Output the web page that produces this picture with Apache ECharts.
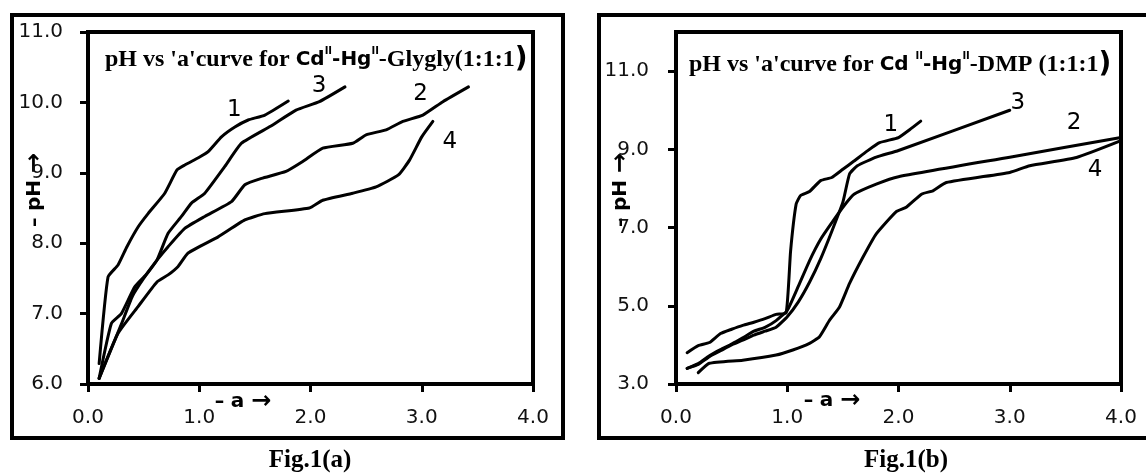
<!DOCTYPE html>
<html>
<head>
<meta charset="utf-8">
<script src="https://cdn.jsdelivr.net/npm/echarts@6/dist/echarts.min.js"></script>
<style>
  html, body { margin: 0; padding: 0; background: #fff; }
  #main { width: 1146px; height: 474px; }
</style>
</head>
<body>
<div id="main"></div>
<script>
// Fig.1(a) : Cd(II)-Hg(II)-Glygly (1:1:1)
const aA1 = [0.1, 0.18, 0.27, 0.35, 0.45, 0.54, 0.69, 0.8, 0.87, 1.0, 1.08, 1.2, 1.32, 1.44, 1.59, 1.8]
const phA1 = [6.29, 7.52, 7.69, 7.95, 8.23, 8.42, 8.71, 9.04, 9.11, 9.22, 9.30, 9.51, 9.65, 9.75, 9.82, 10.02]
const aA2 = [0.1, 0.21, 0.3, 0.42, 0.52, 0.62, 0.72, 0.87, 1.05, 1.29, 1.41, 1.56, 1.78, 1.93, 2.11, 2.38, 2.5, 2.68, 2.83, 3.01, 3.19, 3.42]
const phA2 = [6.08, 6.86, 7.0, 7.38, 7.55, 7.76, 7.95, 8.21, 8.38, 8.59, 8.83, 8.92, 9.02, 9.16, 9.35, 9.42, 9.54, 9.61, 9.73, 9.82, 10.01, 10.22]
const aA3 = [0.1, 0.23, 0.3, 0.4, 0.5, 0.62, 0.72, 0.84, 0.93, 1.05, 1.23, 1.38, 1.64, 1.87, 2.08, 2.31]
const phA3 = [6.08, 6.58, 6.85, 7.25, 7.5, 7.76, 8.14, 8.38, 8.57, 8.71, 9.09, 9.42, 9.66, 9.89, 10.01, 10.22]
const aA4 = [0.1, 0.27, 0.45, 0.62, 0.72, 0.81, 0.9, 1.17, 1.41, 1.59, 1.99, 2.11, 2.38, 2.59, 2.79, 2.89, 3.0, 3.1]
const phA4 = [6.08, 6.72, 7.10, 7.45, 7.55, 7.67, 7.86, 8.09, 8.33, 8.42, 8.50, 8.61, 8.71, 8.80, 8.97, 9.18, 9.51, 9.73]

// Fig.1(b) : Cd(II)-Hg(II)-DMP (1:1:1)
const aB1 = [0.1, 0.2, 0.3, 0.4, 0.5, 0.6, 0.7, 0.8, 0.9, 0.99, 1.03, 1.08, 1.12, 1.2, 1.3, 1.4, 1.5, 1.6, 1.72, 1.83, 2.0, 2.1, 2.2]
const phB1 = [3.80, 3.98, 4.06, 4.29, 4.40, 4.50, 4.58, 4.67, 4.78, 4.82, 6.4, 7.6, 7.82, 7.92, 8.20, 8.28, 8.49, 8.70, 8.96, 9.17, 9.30, 9.50, 9.72]
const aB2 = [0.1, 0.2, 0.3, 0.4, 0.5, 0.6, 0.7, 0.8, 0.9, 1.0, 1.1, 1.2, 1.3, 1.4, 1.5, 1.6, 1.8, 2.0, 3.0, 4.0]
const phB2 = [3.40, 3.52, 3.72, 3.88, 4.02, 4.18, 4.35, 4.45, 4.62, 4.88, 5.50, 6.15, 6.70, 7.12, 7.52, 7.85, 8.11, 8.30, 8.80, 9.30]
const aB3 = [0.1, 0.2, 0.3, 0.4, 0.5, 0.6, 0.7, 0.8, 0.9, 1.0, 1.1, 1.2, 1.3, 1.4, 1.5, 1.56, 1.63, 1.8, 2.0, 3.0]
const phB3 = [3.40, 3.50, 3.70, 3.85, 4.00, 4.12, 4.25, 4.35, 4.45, 4.72, 5.10, 5.60, 6.20, 6.90, 7.65, 8.37, 8.58, 8.80, 8.97, 10.0]
const aB4 = [0.2, 0.3, 0.6, 0.9, 1.05, 1.2, 1.29, 1.38, 1.47, 1.56, 1.68, 1.8, 1.98, 2.07, 2.21, 2.31, 2.43, 3.0, 3.18, 3.6, 4.0]
const phB4 = [3.29, 3.53, 3.61, 3.74, 3.87, 4.04, 4.21, 4.63, 4.97, 5.57, 6.24, 6.84, 7.41, 7.52, 7.86, 7.94, 8.15, 8.41, 8.58, 8.79, 9.22]

const xTicks = [0, 1, 2, 3, 4]
const yTicksB = [3, 5, 7, 9, 11]

const SANS = 'DejaVu Sans'
const SERIF = 'Liberation Serif'

function curve (name, xs, ys, gi, off) {
  return {
    type: 'line',
    name: name,
    xAxisIndex: gi,
    yAxisIndex: gi,
    data: xs.map((x, i) => [x, ys[i]]),
    symbol: 'none',
    smooth: 0.15,
    clip: false,
    lineStyle: { color: '#000', width: 3, cap: 'round', join: 'round' },
    endLabel: {
      show: true,
      formatter: name,
      align: 'center',
      verticalAlign: 'middle',
      distance: 0,
      offset: off,
      fontFamily: SANS,
      fontSize: 23,
      color: '#000'
    }
  }
}

function xAxisOf (gi) {
  return {
    gridIndex: gi,
    type: 'value',
    min: 0,
    max: 4,
    interval: 1,
    axisLine: { show: true, onZero: false, lineStyle: { color: '#000', width: 4 } },
    axisTick: { show: true, length: 8, customValues: xTicks, lineStyle: { color: '#000', width: 3 } },
    axisLabel: { margin: 24, customValues: xTicks, formatter: v => v.toFixed(1), fontFamily: SANS, fontSize: 20, color: '#111' },
    splitLine: { show: false }
  }
}

const rich = {
  t: { fontFamily: SERIF, fontWeight: 'bold', fontSize: 24, color: '#000', lineHeight: 28 },
  s: { fontFamily: SANS, fontWeight: 'bold', fontSize: 20, color: '#000', lineHeight: 28 },
  sup: { fontFamily: SANS, fontWeight: 'bold', fontSize: 10, color: '#000', lineHeight: 14, verticalAlign: 'top' },
  p: { fontFamily: SANS, fontSize: 28, color: '#000', lineHeight: 28 }
}

const nameRich = {
  d: { fontFamily: SANS, fontWeight: 'bold', fontSize: 19, color: '#000' },
  t: { fontFamily: SANS, fontWeight: 'bold', fontSize: 20, color: '#000' },
  r: { fontFamily: SANS, fontWeight: 'bold', fontSize: 24, color: '#000' }
}

function nameText (x, y, txt, rot) {
  return {
    type: 'text', x: x, y: y, rotation: rot,
    style: { text: txt, rich: nameRich, align: 'center', verticalAlign: 'middle' }
  }
}

const option = {
  backgroundColor: '#fff',
  animation: false,
  title: [
    {
      left: 105, top: 46, padding: 0,
      text: "{t|pH vs 'a'curve for }{s|Cd}{sup|II}{s|-Hg}{sup|II}{t|-Glygly(1:1:1}{p|)}",
      textStyle: { rich: rich }
    },
    {
      left: 689, top: 51, padding: 0,
      text: "{t|pH vs 'a'curve for }{s|Cd }{sup|II}{s|-Hg}{sup|II}{t|-DMP (1:1:1}{p|)}",
      textStyle: { rich: rich }
    }
  ],
  grid: [
    { left: 88, top: 32, width: 445, height: 352, show: true, borderColor: '#000', borderWidth: 4 },
    { left: 676, top: 32, width: 445, height: 352, show: true, borderColor: '#000', borderWidth: 4 }
  ],
  xAxis: [xAxisOf(0), xAxisOf(1)],
  yAxis: [
    {
      gridIndex: 0, type: 'value', min: 6, max: 11, interval: 1,
      axisLine: { show: true, onZero: false, lineStyle: { color: '#000', width: 4 } },
      axisTick: { show: true, length: 8, lineStyle: { color: '#000', width: 3 } },
      axisLabel: { margin: 25, formatter: v => v.toFixed(1), fontFamily: SANS, fontSize: 20, color: '#111' },
      splitLine: { show: false }
    },
    {
      gridIndex: 1, type: 'value', min: 3, max: 12, interval: 1,
      axisLine: { show: true, onZero: false, lineStyle: { color: '#000', width: 4 } },
      axisTick: { show: true, length: 8, customValues: yTicksB, lineStyle: { color: '#000', width: 3 } },
      axisLabel: { margin: 27, customValues: yTicksB, formatter: v => v.toFixed(1), fontFamily: SANS, fontSize: 20, color: '#111' },
      splitLine: { show: false }
    }
  ],
  graphic: [
    // outer frames
    { type: 'rect', z: -1, shape: { x: 12, y: 15, width: 551, height: 423 }, style: { fill: 'none', stroke: '#000', lineWidth: 4 } },
    { type: 'rect', z: -1, shape: { x: 599, y: 15, width: 560, height: 423 }, style: { fill: 'none', stroke: '#000', lineWidth: 4 } },
    // axis names
    nameText(35, 190, '{d|– }{t|pH }{r|→}', Math.PI / 2),
    nameText(621, 190, '{d|– }{t|pH }{r|→}', Math.PI / 2),
    nameText(243, 402, '{d|– }{t|a }{r|→}', 0),
    nameText(832, 401, '{d|– }{t|a }{r|→}', 0),
    // figure captions
    { type: 'text', x: 310, y: 461, style: { text: 'Fig.1(a)', fontFamily: SERIF, fontWeight: 'bold', fontSize: 25, fill: '#000', align: 'center', verticalAlign: 'middle' } },
    { type: 'text', x: 906, y: 461, style: { text: 'Fig.1(b)', fontFamily: SERIF, fontWeight: 'bold', fontSize: 25, fill: '#000', align: 'center', verticalAlign: 'middle' } }
  ],
  series: [
    curve('1', aA1, phA1, 0, [-54, 9]),
    curve('2', aA2, phA2, 0, [-48, 7]),
    curve('3', aA3, phA3, 0, [-26, -1]),
    curve('4', aA4, phA4, 0, [17, 21]),
    curve('1', aB1, phB1, 1, [-30, 4]),
    curve('2', aB2, phB2, 1, [-47, -15]),
    curve('3', aB3, phB3, 1, [8, -7]),
    curve('4', aB4, phB4, 1, [-26, 29])
  ]
}

const myChart = echarts.init(document.getElementById('main'))
myChart.setOption(option)
</script>
</body>
</html>
